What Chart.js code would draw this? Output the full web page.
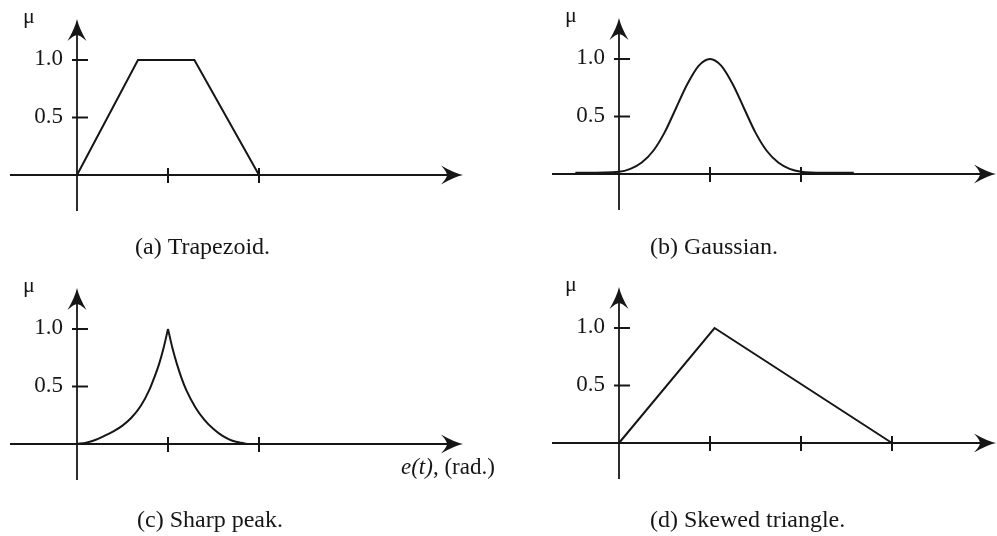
<!DOCTYPE html>
<html>
<head>
<meta charset="utf-8">
<script src="https://cdn.jsdelivr.net/npm/chart.js@4.4.1/dist/chart.umd.min.js"></script>
<style>
  html, body { margin: 0; padding: 0; background: #ffffff; }
  #sheet { position: relative; width: 997px; height: 536px; overflow: hidden; background: #ffffff; }
  #sheet canvas { position: absolute; }
</style>
</head>
<body>
<div id="sheet">
  <canvas id="panelA"></canvas>
  <canvas id="panelB"></canvas>
  <canvas id="panelC"></canvas>
  <canvas id="panelD"></canvas>
</div>
<script>
// Membership-degree marks on every μ axis
const muTicks = [0.5, 1.0];
const muTickLabels = ['0.5', '1.0'];

// (a) trapezoid membership function
const trapezoidX  = [0, 0.67, 1.29, 2];
const trapezoidMu = [0, 1.0, 1.0, 0];
const trapezoidXTicks = [1, 2];

// (b) gaussian membership function
const gaussianX  = [-0.48, 0, 0.125, 0.25, 0.375, 0.5, 0.625, 0.75, 0.875, 1.0,
                    1.125, 1.25, 1.375, 1.5, 1.625, 1.75, 1.875, 2.0, 2.25, 2.58];
const gaussianMu = [0.01, 0.02, 0.045, 0.10, 0.20, 0.36, 0.57, 0.78, 0.94, 1.0,
                    0.94, 0.78, 0.57, 0.36, 0.20, 0.10, 0.045, 0.02, 0.01, 0.01];
const gaussianXTicks = [1, 2];

// (c) sharp peak membership function
const peakX  = [0, 0.1, 0.2, 0.3, 0.4, 0.5, 0.6, 0.7, 0.8, 0.85, 0.9, 0.95, 1.0,
                1.05, 1.1, 1.15, 1.2, 1.3, 1.4, 1.5, 1.6, 1.7, 1.8, 1.88];
const peakMu = [0, 0.012, 0.035, 0.07, 0.11, 0.16, 0.23, 0.33, 0.48, 0.58, 0.69, 0.83, 1.0,
                0.83, 0.69, 0.57, 0.47, 0.32, 0.21, 0.13, 0.07, 0.03, 0.01, 0];
const peakXTicks = [1, 2];

// (d) skewed triangle membership function
const skewedX  = [0, 1.05, 3];
const skewedMu = [0, 1.0, 0];
const skewedXTicks = [1, 2, 3];

// Captions and axis names
const captions = ['(a) Trapezoid.', '(b) Gaussian.', '(c) Sharp peak.', '(d) Skewed triangle.'];
const muName = 'μ';
const errorName = ['e(t)', ', (rad.)'];

// ---- layout (pixels) ----
const PX_PER_X = 91;     // one unit along the error axis
const PX_PER_MU = 115;   // one unit of membership degree
const INK = '#161616';
const SERIF = '"Liberation Serif", "Times New Roman", "DejaVu Serif", serif';

const panels = [
  { id: 'panelA', left: 0,   top: 0,   width: 540, height: 268, ox: 77,  oy: 175, axisRight: 386,
    xs: trapezoidX, ys: trapezoidMu, ticks: trapezoidXTicks, caption: captions[0], capDx: 58, capDy: 79, split: false, smooth: false },
  { id: 'panelB', left: 540, top: 0,   width: 457, height: 268, ox: 79,  oy: 174, axisRight: 377,
    xs: gaussianX, ys: gaussianMu, ticks: gaussianXTicks, caption: captions[1], capDx: 31, capDy: 80, split: false, smooth: true },
  { id: 'panelC', left: 0,   top: 268, width: 540, height: 268, ox: 77,  oy: 176, axisRight: 386,
    xs: peakX, ys: peakMu, ticks: peakXTicks, caption: captions[2], capDx: 60, capDy: 83, split: true, smooth: true, xTitle: true },
  { id: 'panelD', left: 540, top: 268, width: 457, height: 268, ox: 79,  oy: 175, axisRight: 377,
    xs: skewedX, ys: skewedMu, ticks: skewedXTicks, caption: captions[3], capDx: 31, capDy: 84, split: false, smooth: false }
];

function arrowHead(ctx, x, y, angle) {
  ctx.save();
  ctx.translate(x, y);
  ctx.rotate(angle);
  ctx.beginPath();
  ctx.moveTo(0, 0);
  ctx.quadraticCurveTo(-9, -2, -22, -9.5);
  ctx.quadraticCurveTo(-16, -3, -16, 0);
  ctx.quadraticCurveTo(-16, 3, -22, 9.5);
  ctx.quadraticCurveTo(-9, 2, 0, 0);
  ctx.closePath();
  ctx.fill();
  ctx.restore();
}

function segment(ctx, x1, y1, x2, y2) {
  ctx.beginPath();
  ctx.moveTo(x1, y1);
  ctx.lineTo(x2, y2);
  ctx.stroke();
}

// Draws the crossing axes with arrowheads, tick marks, labels and caption
const arrowAxes = {
  id: 'arrowAxes',
  beforeDatasetsDraw(chart, args, opts) {
    const ctx = chart.ctx;
    const sx = chart.scales.x, sy = chart.scales.y;
    const x0 = sx.getPixelForValue(0);
    const y0 = sy.getPixelForValue(0);
    ctx.save();
    ctx.strokeStyle = INK;
    ctx.fillStyle = INK;
    ctx.lineWidth = 1.8;
    ctx.lineCap = 'butt';

    // horizontal axis
    const xr = x0 + opts.axisRight;
    segment(ctx, x0 - 67, y0, xr - 15, y0);
    arrowHead(ctx, xr, y0, 0);
    // vertical axis
    const yt = y0 - 156;
    segment(ctx, x0, y0 + 36, x0, yt + 15);
    arrowHead(ctx, x0, yt, -Math.PI / 2);

    // ticks on the horizontal axis
    ctx.lineWidth = 2;
    opts.ticks.forEach(v => {
      const px = sx.getPixelForValue(v);
      segment(ctx, px, y0 - 7, px, y0 + 8);
    });

    // ticks and labels on the μ axis
    ctx.font = '23px ' + SERIF;
    ctx.textAlign = 'right';
    ctx.textBaseline = 'alphabetic';
    muTicks.forEach((v, i) => {
      const py = sy.getPixelForValue(v);
      ctx.lineWidth = 2;
      segment(ctx, x0 - 5, py, x0 + 11, py);
      ctx.fillText(muTickLabels[i], x0 - 14, py + 5);
    });

    // μ axis name
    ctx.textAlign = 'left';
    ctx.font = '22px ' + SERIF;
    ctx.fillText(muName, x0 - 54, y0 - 152);

    // error axis name
    if (opts.xTitle) {
      let tx = x0 + 324;
      const ty = y0 + 30;
      ctx.font = 'italic 23px ' + SERIF;
      ctx.fillText(errorName[0], tx, ty);
      tx += ctx.measureText(errorName[0]).width;
      ctx.font = '23px ' + SERIF;
      ctx.fillText(errorName[1], tx, ty);
    }

    // caption
    ctx.font = '24px ' + SERIF;
    ctx.fillText(opts.caption, x0 + opts.capDx, y0 + opts.capDy);
    ctx.restore();
  }
};

function pointsOf(xs, ys) {
  return xs.map((x, i) => ({ x: x, y: ys[i] }));
}

function lineSet(data, smooth) {
  return {
    data: data,
    borderColor: INK,
    borderWidth: 2,
    pointRadius: 0,
    fill: false,
    tension: 0,
    cubicInterpolationMode: smooth ? 'monotone' : 'default',
    clip: false
  };
}

panels.forEach(p => {
  const canvas = document.getElementById(p.id);
  canvas.width = p.width;
  canvas.height = p.height;
  canvas.style.left = p.left + 'px';
  canvas.style.top = p.top + 'px';
  canvas.style.width = p.width + 'px';
  canvas.style.height = p.height + 'px';

  let datasets;
  if (p.split) {
    // a cusp: each flank is interpolated on its own so the tip stays sharp
    const iMax = p.ys.indexOf(Math.max(...p.ys));
    datasets = [
      lineSet(pointsOf(p.xs.slice(0, iMax + 1), p.ys.slice(0, iMax + 1)), p.smooth),
      lineSet(pointsOf(p.xs.slice(iMax), p.ys.slice(iMax)), p.smooth)
    ];
  } else {
    datasets = [lineSet(pointsOf(p.xs, p.ys), p.smooth)];
  }

  new Chart(canvas, {
    type: 'line',
    data: { datasets: datasets },
    options: {
      responsive: false,
      animation: false,
      devicePixelRatio: 1,
      layout: { padding: 0 },
      scales: {
        x: { type: 'linear', display: false, min: -p.ox / PX_PER_X, max: (p.width - p.ox) / PX_PER_X },
        y: { type: 'linear', display: false, min: (p.oy - p.height) / PX_PER_MU, max: p.oy / PX_PER_MU }
      },
      plugins: {
        legend: { display: false },
        tooltip: { enabled: false },
        arrowAxes: { ticks: p.ticks, caption: p.caption, capDx: p.capDx, capDy: p.capDy,
                     axisRight: p.axisRight, xTitle: !!p.xTitle }
      }
    },
    plugins: [arrowAxes]
  });
});
</script>
</body>
</html>
